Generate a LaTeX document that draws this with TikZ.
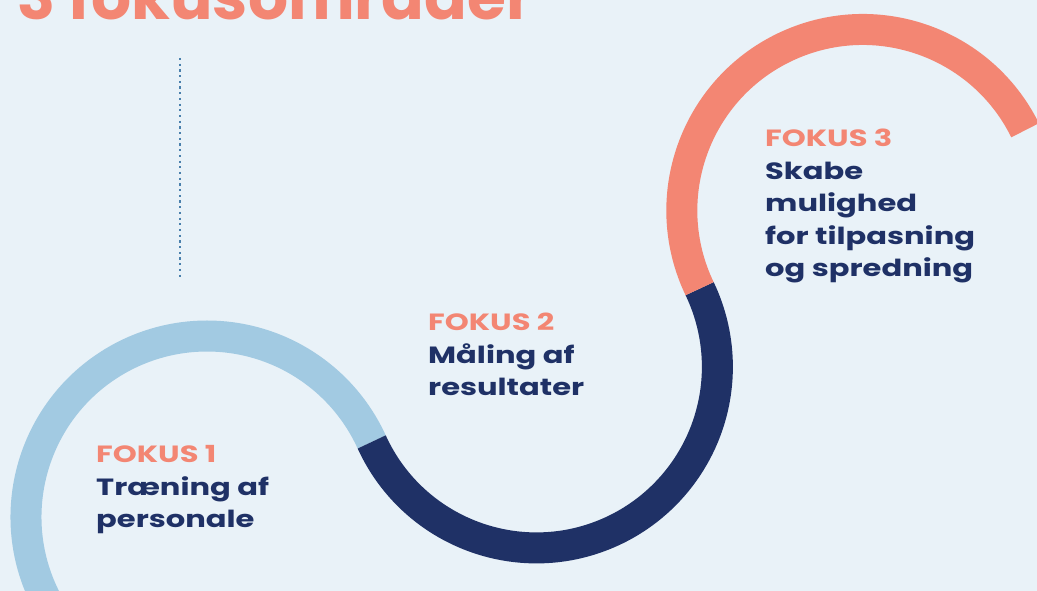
\documentclass[tikz,border=0pt]{standalone}
\usepackage{fontspec}
\setmainfont{Poppins}
\newfontfamily\widefont{Poppins}[FakeStretch=1.3]
\definecolor{bgblue}{HTML}{E9F2F8}
\definecolor{skyblue}{HTML}{A2CAE2}
\definecolor{navy}{HTML}{1F3166}
\definecolor{salmon}{HTML}{F38673}
\definecolor{steel}{HTML}{4A80AC}
\tikzset{
  ring/.style={line width=31pt},
  fokus/.style={anchor=base west, align=left, inner sep=0pt, text=navy,
    font=\widefont\fontsize{23.5}{32.5}\selectfont\bfseries},
  headline/.style={anchor=base west, inner sep=0pt, text=salmon,
    font=\fontsize{63}{63}\selectfont\bfseries},
  dotline/.style={steel, line width=2.2pt, dash pattern=on 2.2pt off 3.5pt}
}
\begin{document}
\begin{tikzpicture}[x=1pt,y=1pt]
        \useasboundingbox (0,0) rectangle (1037,591);
        \clip (0,0) rectangle (1037,591);
        \fill[bgblue] (0,0) rectangle (1037,591);

        \node[headline] (title) at (17,571) {3 fokusområder};

        \coordinate (dtop) at (180,533);
        \coordinate (dbot) at (180,313);
        \draw[dotline] (dtop) -- (dbot);

        % the three rings, joined end to end
        \coordinate (c1) at (207,74);
        \draw[ring,skyblue] (c1) ++(210:181) arc[start angle=210, end angle=24.5, radius=181] coordinate (j12);
        \draw[ring,navy] (j12) arc[start angle=204.5, end angle=385.6, radius=181] coordinate (j23);
        \draw[ring,salmon] (j23) arc[start angle=205.6, end angle=26.3, radius=181] coordinate (tip);

        % base = baseline of the last line
        \node[fokus] (f1) at (96,63) {\textcolor{salmon}{FOKUS 1}\\Træning af\\personale};
        \node[fokus] (f2) at (428,195) {\textcolor{salmon}{FOKUS 2}\\Måling af\\resultater};
        \node[fokus] (f3) at (765,314) {\textcolor{salmon}{FOKUS 3}\\Skabe\\mulighed\\for tilpasning\\og spredning};
    \end{tikzpicture}
\end{document}
